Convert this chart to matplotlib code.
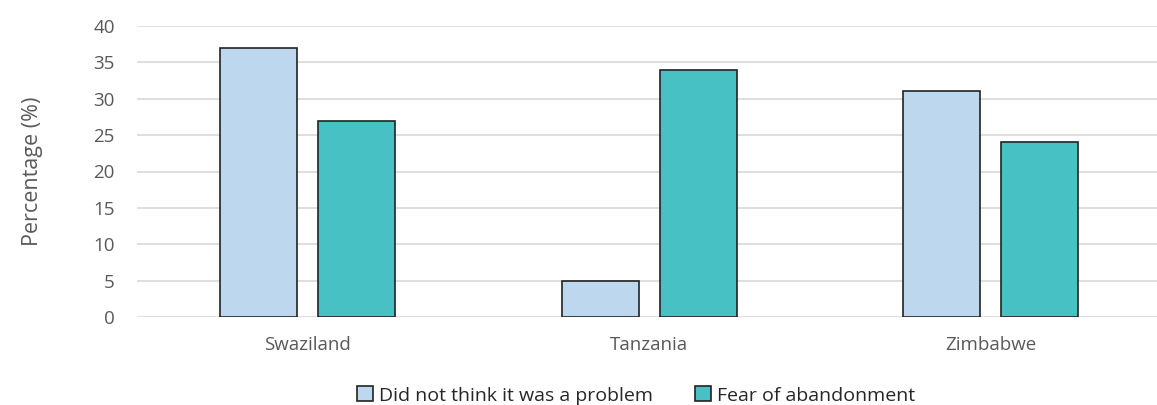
import numpy as np
import matplotlib.pyplot as plt

plt.rcParams['font.family'] = ['Open Sans', 'DejaVu Sans']

countries = ["Swaziland", "Tanzania", "Zimbabwe"]
not_a_problem = [37, 5, 31]
fear_abandonment = [27, 34, 24]
series_names = ["Did not think it was a problem", "Fear of abandonment"]

fig = plt.figure(figsize=(11.57, 4.05), dpi=100)
ax = fig.add_axes([137 / 1157, 88 / 405, 1020 / 1157, 291 / 405])

x = np.arange(len(countries))
w = 0.2255
off = 0.1435
ax.bar(x - off, not_a_problem, w, color="#BDD7EE", edgecolor="#222222",
       linewidth=1.2, label=series_names[0], zorder=3)
ax.bar(x + off, fear_abandonment, w, color="#47C1C3", edgecolor="#222222",
       linewidth=1.2, label=series_names[1], zorder=3)

ax.set_xlim(-0.5, 2.488)
ax.set_ylim(0, 40)
ax.set_yticks(range(0, 41, 5))
ax.set_xticks(x)
ax.set_xticklabels(countries)
ax.yaxis.grid(True, color="#d9d9d9", linewidth=1.2, zorder=0)
for s in ax.spines.values():
    s.set_visible(False)
ax.tick_params(axis="both", length=0, labelsize=13.5, colors="#595959")
ax.tick_params(axis="y", pad=16)
ax.tick_params(axis="x", pad=14)
ax.set_ylabel("Percentage (%)", fontsize=15.5, color="#595959", labelpad=36)

ax.legend(loc="center", bbox_to_anchor=(0.5 + (636 - 647) / 1020, -0.27),
          ncol=2, frameon=False, fontsize=14, handlelength=0.8, handleheight=0.8,
          handletextpad=0.3, columnspacing=2.2, labelcolor="#262626")

fig.savefig("out.png", dpi=100)
